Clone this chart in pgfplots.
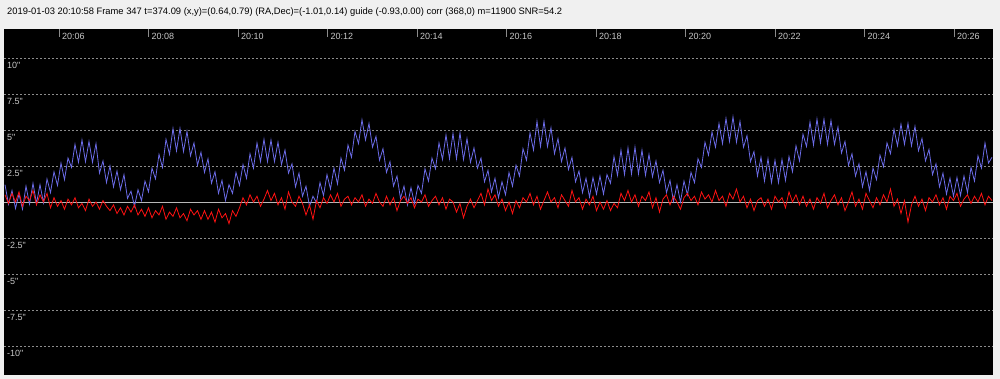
\documentclass[border=0pt]{standalone}
\usepackage{graphicx}
\usepackage{pgfplots}
\pgfplotsset{compat=1.18}
\usepackage{pgfplotstable}
\usepackage{fontspec}
\setmainfont{Liberation Sans}
\newfontfamily\lab{Liberation Sans}
\definecolor{bg}{HTML}{F0F0F0}
\definecolor{guideblue}{HTML}{6C6CE8}
\definecolor{guidered}{HTML}{FF1212}
\definecolor{gridgray}{HTML}{8C8C8C}
\definecolor{labgray}{HTML}{C8C8C8}
\definecolor{zerogray}{HTML}{B8B8B8}

\pgfplotstableread{
b r
1.2 0.5
-0.15 -0.1
0.8 0.6
-0.45 0.0
0.55 0.7
-0.5 -0.3
1.1 0.4
-0.15 0.1
1.3 0.8
-0.1 -0.2
1.2 0.5
-0.05 0.0
1.6 0.6
0.65 -0.4
2.1 0.3
1.15 -0.3
2.7 0.1
1.55 -0.5
3.05 0.2
2.4 -0.2
4.0 0.3
2.75 -0.4
4.3 -0.1
2.8 -0.6
4.2 0.2
2.75 -0.3
4.05 0.0
2.0 -0.5
2.85 0.1
1.35 -0.3
2.5 -0.6
1.05 -0.2
2.15 -0.8
0.85 -0.4
1.9 -0.9
0.25 -0.3
0.75 -0.7
-0.3 -0.2
0.85 -0.9
0.1 -0.5
1.45 -1.0
0.7 -0.4
2.35 -1.1
1.6 -0.6
3.3 -0.9
2.4 -0.3
4.35 -1.2
3.3 -0.7
5.1 -1.0
3.55 -0.4
5.1 -1.1
3.5 -0.8
4.9 -1.3
3.2 -0.5
4.1 -0.9
2.55 -0.6
3.45 -1.2
2.05 -0.6
3.0 -1.2
1.3 -0.7
2.1 -1.4
0.6 -0.5
1.5 -1.1
0.1 -0.8
1.2 -1.5
0.6 -0.6
2.05 -1.0
1.15 -0.4
2.6 0.3
1.65 -0.2
3.35 0.5
2.35 0.0
4.1 0.4
2.8 -0.3
4.35 0.2
2.8 0.8
4.3 0.1
2.8 0.6
4.15 -0.2
2.6 0.3
3.6 -0.5
2.0 0.7
2.65 0.0
1.05 -0.3
2.0 0.4
0.4 -0.1
1.1 -0.9
-0.3 -0.2
0.4 -1.2
-0.05 0.1
1.35 -0.4
0.45 0.3
1.9 -0.1
0.9 0.5
2.35 0.0
1.25 0.6
3.05 -0.3
2.2 0.2
3.95 0.4
3.1 -0.2
4.9 0.3
4.05 0.0
5.7 0.5
4.3 -0.3
5.45 0.2
3.8 -0.1
4.55 0.6
2.9 0.0
3.7 -0.3
2.05 0.4
2.8 -0.2
1.1 0.3
1.8 -0.6
0.25 0.1
1.1 0.4
-0.2 -0.1
1.0 0.3
-0.1 -0.4
1.15 0.2
0.6 0.0
2.3 0.5
1.45 -0.3
3.05 0.1
2.3 0.4
4.1 -0.2
2.95 0.3
4.65 -0.5
3.0 0.2
4.75 0.0
3.0 -0.7
4.8 -0.1
2.95 -1.1
4.4 -0.3
2.75 0.2
3.75 -0.4
2.35 0.1
3.05 0.6
1.4 -0.2
2.2 0.9
0.7 0.1
1.65 0.5
0.3 -0.3
1.4 0.2
0.5 -0.6
2.05 0.0
1.1 -0.8
2.55 0.1
1.8 -0.4
3.7 0.3
2.9 0.0
4.8 0.6
3.6 -0.2
5.6 0.4
3.85 -0.5
5.6 0.1
3.85 0.7
5.15 0.0
3.35 0.3
4.4 -0.4
2.8 0.5
3.75 0.1
2.25 -0.3
3.1 0.8
1.4 0.0
2.15 0.3
0.65 -0.5
1.65 0.2
0.35 -0.2
1.7 0.4
0.55 -0.6
1.8 0.0
0.55 -0.5
1.9 0.1
1.3 -0.6
3.15 -0.1
1.85 -0.4
3.6 0.6
1.9 0.1
3.75 0.8
1.95 0.0
3.8 0.5
1.95 -0.3
3.6 0.4
1.85 0.1
3.3 0.7
1.75 -0.4
2.85 0.3
1.35 -0.7
2.2 0.2
0.65 0.5
1.5 -0.2
0.05 0.4
1.2 0.0
0.0 -0.5
1.45 0.3
0.5 0.6
2.05 0.1
1.35 0.4
3.0 -0.2
2.4 0.7
4.15 0.2
3.25 0.5
4.85 0.0
3.8 0.8
5.45 0.1
4.05 0.4
5.8 -0.3
4.2 0.6
5.9 0.2
4.15 0.9
5.6 0.0
3.8 0.4
4.6 -0.4
2.8 0.2
3.5 -0.6
1.8 0.1
3.1 0.3
1.45 -0.3
3.0 0.2
1.35 -0.5
2.9 0.4
1.35 0.0
2.95 0.3
1.5 -0.4
3.15 0.7
2.1 0.0
3.9 0.5
2.85 -0.2
4.7 0.4
3.85 -0.3
5.55 0.2
3.95 -0.5
5.75 0.3
4.1 -0.1
5.75 0.6
4.0 -0.4
5.65 0.1
4.0 0.5
5.2 -0.2
3.4 0.3
4.2 -0.6
2.55 0.0
3.35 0.7
1.8 -0.3
2.65 0.2
1.05 -0.5
2.1 0.6
0.8 0.1
2.35 -0.4
1.55 0.3
3.25 -0.2
2.45 0.5
4.1 0.0
3.35 0.9
5.05 -0.3
3.9 0.2
5.4 -0.8
4.0 0.1
5.45 -1.4
3.9 -0.2
5.25 0.4
3.55 -0.3
4.4 0.2
2.85 -0.6
3.65 0.3
1.9 0.0
2.65 0.5
1.05 -0.2
2.0 0.3
0.55 -0.5
1.65 0.4
0.4 0.1
1.7 0.6
0.45 -0.3
1.8 0.2
0.65 0.5
2.4 -0.1
1.45 0.4
3.2 0.0
2.35 0.6
4.1 -0.2
2.7 0.4
3.1 0.1
}\guidedata

\begin{document}
\begin{tikzpicture}[x=1pt,y=1pt]
\fill[bg] (0,0) rectangle (1000,379);
\node[anchor=west, inner sep=0pt] at (7,366.5) {\resizebox{555pt}{!}{\lab 2019-01-03 20:10:58 Frame 347 t=374.09 (x,y)=(0.64,0.79) (RA,Dec)=(-1.01,0.14) guide (-0.93,0.00) corr (368,0) m=11900 SNR=54.2}};
\begin{axis}[
  at={(4pt,4pt)}, anchor=south west,
  scale only axis, width=989pt, height=346pt,
  xmin=4.771, xmax=26.872, ymin=-12, ymax=12,
  axis background/.style={fill=black},
  axis line style={draw=none},
  tick align=inside,
  major tick length=8pt,
  xtick={6,8,10,12,14,16,18,20,22,24,26},
  xticklabels={20:06,20:08,20:10,20:12,20:14,20:16,20:18,20:20,20:22,20:24,20:26},
  xtick pos=upper, xticklabel pos=upper,
  xtick style={draw=gridgray, line width=0.6pt},
  xticklabel style={anchor=north west, inner sep=2.5pt, xshift=0.5pt, yshift=-1.5pt, text=labgray, font=\lab\fontsize{9}{10}\selectfont},
  ytick={-10,-7.5,-5,-2.5,2.5,5,7.5,10},
  yticklabels={-10",-7.5",-5",-2.5",2.5",5",7.5",10"},
  ytick style={draw=none},
  yticklabel pos=lower,
  yticklabel style={anchor=north west, inner sep=2.5pt, xshift=0.5pt, yshift=-1.5pt, text=labgray, font=\lab\fontsize{9}{10}\selectfont},
  ymajorgrids,
  major grid style={draw=gridgray, line width=0.6pt, dash pattern=on 2pt off 2pt},
  extra y ticks={0}, extra y tick labels={},
  extra y tick style={grid=major, major grid style={draw=zerogray, solid, line width=0.8pt}},
  clip=true,
]
\addplot[guideblue, line width=0.8pt, no marks] table[x expr={4.7933+0.078212*\coordindex}, y=b] {\guidedata};
\addplot[guidered, line width=0.8pt, no marks] table[x expr={4.7933+0.078212*\coordindex}, y=r] {\guidedata};
\end{axis}
\end{tikzpicture}
\end{document}
